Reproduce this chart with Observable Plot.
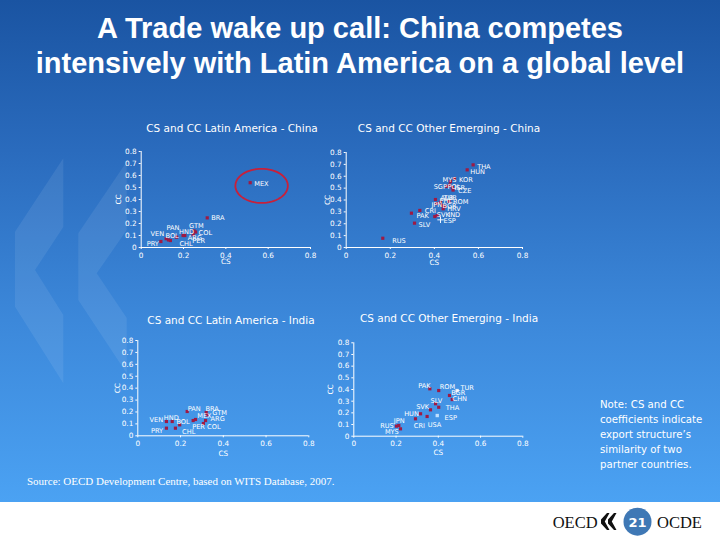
<!DOCTYPE html>
<html><head><meta charset="utf-8">
<script src="https://cdn.jsdelivr.net/npm/d3@7"></script>
<script src="https://cdn.jsdelivr.net/npm/@observablehq/plot@0.6"></script>
<style>
html,body{margin:0;padding:0;}
body{width:720px;height:540px;position:relative;overflow:hidden;background:#fff;font-family:"DejaVu Sans",sans-serif;}
#slide{position:absolute;left:0;top:0;width:720px;height:502px;background:linear-gradient(to bottom,#1a54a2 0px,#2a6bbd 150px,#3c88da 320px,#4ba2f3 502px);}
#decor{position:absolute;left:0;top:0;}
.title{position:absolute;left:0;width:720px;text-align:center;color:#fff;font-family:"Liberation Sans Narrow","Liberation Sans",sans-serif;font-weight:bold;font-size:29px;line-height:36px;white-space:nowrap;}
.ptitle{position:absolute;color:#fff;font-family:"DejaVu Sans",sans-serif;font-size:10.5px;white-space:nowrap;transform:translate(-50%,-50%);}
.panel{position:absolute;}
#note{position:absolute;left:600px;top:397px;color:#fff;font-family:"DejaVu Sans",sans-serif;font-size:10.2px;line-height:15px;}
#source{position:absolute;left:27px;top:475px;color:#fff;font-family:"Liberation Serif",serif;font-size:11px;white-space:nowrap;}
#footer{position:absolute;left:0;top:502px;}
</style></head>
<body>
<div id="slide"></div>
<svg id="decor" width="720" height="502">
  <polygon points="63.3,158.3 15,231.7 15,306.7 63.3,383.3 63.3,315 35,270 63.3,227" fill="rgba(255,255,255,0.08)"/>
  <polygon points="126.7,161.7 78.3,233.3 78.3,300 126.7,373.3 126.7,318 96.7,273.3 126.7,230" fill="rgba(255,255,255,0.08)"/>
</svg>
<div class="title" style="top:10px">A Trade wake up call: China competes</div>
<div class="title" style="top:45px">intensively with Latin America on a global level</div>

<div class="ptitle" style="left:232px;top:128px">CS and CC Latin America - China</div>
<div class="ptitle" style="left:449px;top:128px">CS and CC Other Emerging - China</div>
<div class="ptitle" style="left:231px;top:320px">CS and CC Latin America - India</div>
<div class="ptitle" style="left:449px;top:318px">CS and CC Other Emerging - India</div>

<div id="p1" class="panel"></div>
<div id="p2" class="panel"></div>
<div id="p3" class="panel"></div>
<div id="p4" class="panel"></div>

<div id="note">Note: CS and CC<br>coefficients indicate<br>export structure’s<br>similarity of two<br>partner countries.</div>
<div id="source">Source: OECD Development Centre, based on WITS Database, 2007.</div>

<svg id="footer" width="720" height="38">
  <text x="552.7" y="25.5" font-family="Liberation Serif" font-size="16.5" fill="#111">OECD</text>
  <polygon points="607,11 601,17.5 601,21.5 607,28 609.5,28 604.8,19.5 609.5,11" fill="#111"/>
  <polygon points="614,11 608,17.5 608,21.5 614,28 616.5,28 611.8,19.5 616.5,11" fill="#111"/>
  <circle cx="637.5" cy="19.7" r="14" fill="#3f78b5"/>
  <text x="637.5" y="24.5" text-anchor="middle" font-family="DejaVu Sans" font-weight="bold" font-size="13" fill="#fff">21</text>
  <text x="657" y="25.5" font-family="Liberation Serif" font-size="16.5" fill="#111">OCDE</text>
</svg>

<script>
// ---- Data ----
const xTickValues = [0, 0.2, 0.4, 0.6, 0.8];
const xTickLabels = ["0", "0.2", "0.4", "0.6", "0.8"];
const yTickValues = [0, 0.1, 0.2, 0.3, 0.4, 0.5, 0.6, 0.7, 0.8];
const yTickLabels = ["0", "0.1", "0.2", "0.3", "0.4", "0.5", "0.6", "0.7", "0.8"];

// Latin America - China
const laChinaCountries = ["MEX","BRA","GTM","COL","ARG","PER","HND","PAN","BOL","VEN","PRY","CHL"];
const laChinaCS = [0.515,0.312,0.250,0.257,0.206,0.246,0.198,0.167,0.129,0.118,0.093,0.138];
const laChinaCC = [0.540,0.247,0.138,0.129,0.100,0.106,0.100,0.086,0.063,0.073,0.050,0.058];

// Other Emerging - China
const oeChinaCountries = ["THA","HUN","MYS","KOR","SGP","POL","ISR","CZE","ALB","TUR","PHL","ROM","JPN","BGR","HRV","CRI","PAK","SVK","IND","ESP","SLV","RUS"];
const oeChinaCS = [0.576,0.549,0.473,0.491,0.457,0.469,0.482,0.485,0.405,0.428,0.410,0.466,0.436,0.446,0.440,0.334,0.296,0.402,0.413,0.428,0.310,0.166];
const oeChinaCC = [0.696,0.654,0.556,0.581,0.514,0.526,0.505,0.484,0.404,0.381,0.370,0.387,0.354,0.345,0.326,0.312,0.289,0.261,0.269,0.233,0.205,0.078];

// Latin America - India
const laIndiaCountries = ["PAN","BRA","GTM","MEX","PER","ARG","COL","VEN","HND","BOL","PRY","CHL"];
const laIndiaCS = [0.231,0.320,0.325,0.270,0.259,0.317,0.307,0.134,0.161,0.196,0.134,0.176];
const laIndiaCC = [0.204,0.196,0.175,0.137,0.128,0.128,0.103,0.120,0.120,0.092,0.064,0.064];

// Other Emerging - India
const oeIndiaCountries = ["PAK","ROM","TUR","BGR","CHN","SLV","THA","SVK","ESP","HUN","USA","CRI","JPN","RUS","MYS"];
const oeIndiaCS = [0.360,0.402,0.489,0.453,0.466,0.387,0.402,0.363,0.395,0.316,0.347,0.292,0.213,0.202,0.221];
const oeIndiaCC = [0.406,0.391,0.391,0.349,0.314,0.278,0.248,0.226,0.177,0.192,0.169,0.149,0.092,0.086,0.063];

// ---- Label placement (anchor, dx, dy in px) ----
const laChinaLabelPos = {MEX:["start",4,1],BRA:["start",4,0.5],GTM:["start",-5,-5],COL:["start",3,1],ARG:["start",3,2],PER:["start",-1,6],HND:["start",-4,-4],PAN:["end",3,-9],BOL:["start",-3,-4.5],VEN:["end",-2,-5],PRY:["end",-2,2],CHL:["start",9,3]};
const oeChinaLabelPos = {THA:["start",4,2],HUN:["start",3,2],MYS:["end",6,-1.5],KOR:["start",4.7,1.3],SGP:["end",0,0.7],POL:["start",-2,2.2],ISR:["start",2,0],CZE:["start",5,1.2],ALB:["start",5,-1.7],TUR:["start",3,-4.4],PHL:["start",3,-2.3],ROM:["start",4,0],JPN:["end",0,-1],BGR:["start",-2,-1],HRV:["start",4,0],CRI:["start",5,0.7],PAK:["start",5,2.3],SVK:["start",2,-2],IND:["start",11,-1],ESP:["start",3,0.7],SLV:["start",4,1.3],RUS:["start",9.4,2.3]};
const laIndiaLabelPos = {PAN:["start",0.6,-2.7],BRA:["start",-0.7,-3.7],GTM:["start",5,-2.2],MEX:["start",1.7,-4],PER:["start",-1,6.7],ARG:["start",5,-1.3],COL:["start",3.7,3],VEN:["end",-3.3,-1.7],HND:["start",-8.4,-3.7],BOL:["start",-3.3,-3],PRY:["end",-3.3,2.3],CHL:["start",6.7,3.3]};
const oeIndiaLabelPos = {PAK:["end",0.7,-3.3],ROM:["start",1,-3.3],TUR:["start",3.3,-2.7],BGR:["start",1.7,-2.3],CHN:["start",0.3,-0.7],SLV:["start",-5,-3.3],THA:["start",7,0.6],SVK:["end",-1.3,-2.6],ESP:["start",7.3,2.3],HUN:["end",-1.7,0],USA:["start",0.6,8],CRI:["start",-1.7,7.4],JPN:["start",-5,-5],RUS:["end",-2.7,-0.7],MYS:["end",-1.7,2.7]};

const MARKER = "#9e1a44";

function makePanel(el, cfg) {
  const rows = cfg.countries.map((c, i) => ({c, cs: cfg.cs[i], cc: cfg.cc[i]}));
  const special = cfg.special || {};
  const normal = rows.filter(r => !special[r.c]);
  const marks = [
    Plot.ruleY([0], {stroke: "white", strokeWidth: 1}),
    Plot.ruleX([0], {stroke: "white", strokeWidth: 1}),
    Plot.dot(normal, {x: "cs", y: "cc", symbol: "square", r: 1.8, fill: MARKER})
  ];
  for (const r of rows.filter(r => special[r.c])) {
    const s = special[r.c];
    if (s === "plus") marks.push(Plot.dot([r], {x: "cs", y: "cc", symbol: "plus", r: 2.2, stroke: "#f4f8ff", strokeWidth: 1}));
    else marks.push(Plot.dot([r], {x: "cs", y: "cc", symbol: "square", r: 1.9, fill: s}));
  }
  for (const r of rows) {
    const p = cfg.labelPos[r.c] || ["start", 4, 0];
    marks.push(Plot.text([r], {x: "cs", y: "cc", text: "c", textAnchor: p[0], dx: p[1], dy: p[2], fill: "white", fontSize: 6.6}));
  }
  if (cfg.extra) marks.push(...cfg.extra(rows));
  const svg = Plot.plot({
    width: cfg.width, height: cfg.height,
    marginLeft: cfg.ml, marginRight: cfg.mr, marginTop: cfg.mt, marginBottom: cfg.mb,
    style: {background: "transparent", color: "white", fontFamily: "DejaVu Sans", fontSize: "7.3px", overflow: "visible"},
    x: {domain: [0, 0.8], ticks: xTickValues, tickFormat: d => xTickLabels[xTickValues.indexOf(d)], tickSize: 2, tickPadding: 3,
        label: "CS", labelAnchor: "center", labelOffset: cfg.xlo, labelArrow: "none"},
    y: {domain: [0, 0.8], ticks: yTickValues, tickFormat: d => yTickLabels[yTickValues.indexOf(d)], tickSize: 2, tickPadding: 2.5,
        label: "CC", labelAnchor: "center", labelOffset: cfg.ylo, labelArrow: "none"},
    marks
  });
  el.style.left = cfg.left + "px";
  el.style.top = cfg.top + "px";
  el.appendChild(svg);
}

// MEX highlight ellipse (annotation around MEX)
function mexEllipse(rows) {
  const m = rows.find(r => r.c === "MEX");
  const cx = m.cs + 0.054, cy = m.cc - 0.026, rx = 0.124, ry = 0.142;
  const pts = d3.range(0, 64).map(k => {
    const t = k / 64 * 2 * Math.PI;
    return {cs: cx + rx * Math.cos(t), cc: cy + ry * Math.sin(t)};
  });
  return [Plot.line(pts, {x: "cs", y: "cc", curve: "linear-closed", stroke: "#c8203a", strokeWidth: 1.8})];
}

makePanel(document.getElementById("p1"), {
  countries: laChinaCountries, cs: laChinaCS, cc: laChinaCC, labelPos: laChinaLabelPos,
  left: 95, top: 140, width: 230, height: 130, ml: 45.7, mr: 15, mt: 11, mb: 23, xlo: 16.5, ylo: 25,
  extra: mexEllipse
});
makePanel(document.getElementById("p2"), {
  countries: oeChinaCountries, cs: oeChinaCS, cc: oeChinaCC, labelPos: oeChinaLabelPos,
  left: 300, top: 140, width: 240, height: 130, ml: 45.7, mr: 18, mt: 12, mb: 23, xlo: 17, ylo: 21,
  special: {ESP: "plus"}
});
makePanel(document.getElementById("p3"), {
  countries: laIndiaCountries, cs: laIndiaCS, cc: laIndiaCC, labelPos: laIndiaLabelPos,
  left: 92, top: 328, width: 230, height: 135, ml: 45.3, mr: 13.7, mt: 12, mb: 27.7, xlo: 20, ylo: 23
});
makePanel(document.getElementById("p4"), {
  countries: oeIndiaCountries, cs: oeIndiaCS, cc: oeIndiaCC, labelPos: oeIndiaLabelPos,
  left: 308, top: 330, width: 230, height: 133, ml: 45.3, mr: 15.7, mt: 12.3, mb: 27.3, xlo: 18.5, ylo: 26,
  special: {TUR: "#e8ecf6", ESP: "#bfe0ff"}
});
</script>
</body></html>
